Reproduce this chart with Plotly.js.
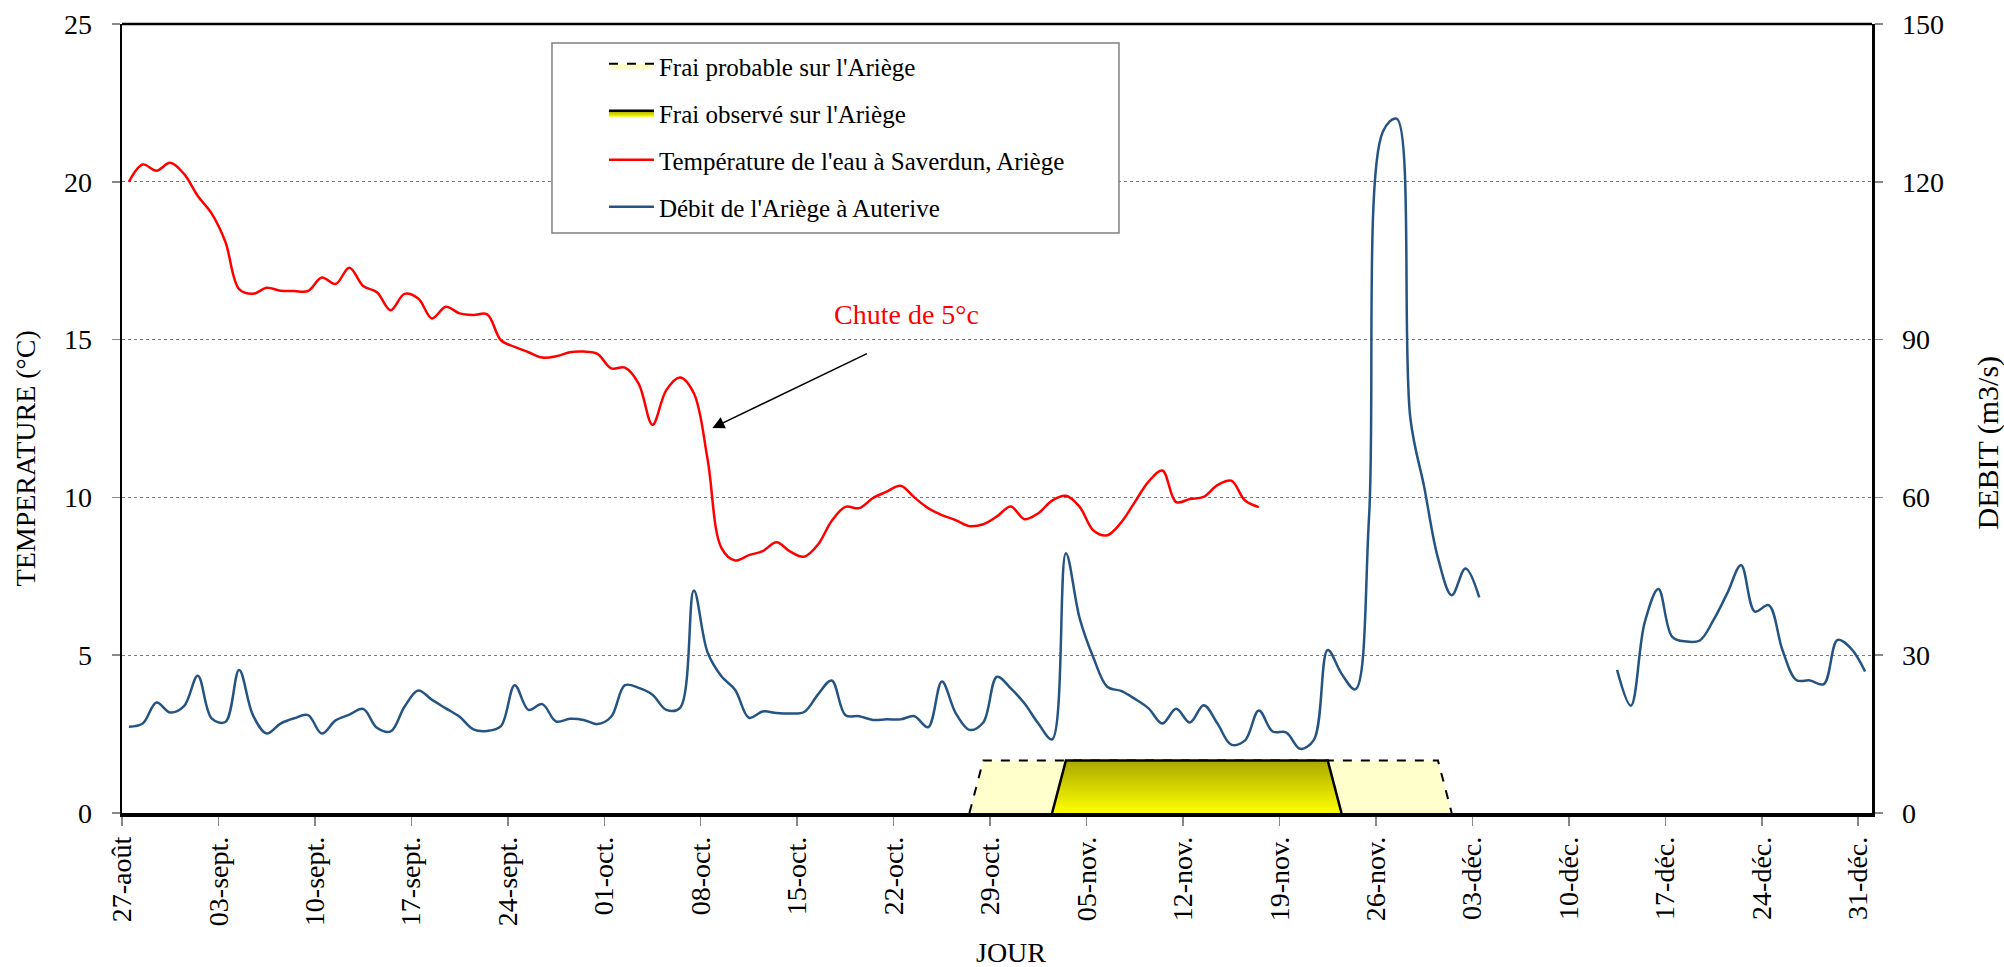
<!DOCTYPE html>
<html>
<head>
<meta charset="utf-8">
<script src="https://cdn.plot.ly/plotly-3.0.1.min.js"></script>
<style>html,body{margin:0;padding:0;background:#fff;}#chart{width:2004px;height:967px;}</style>
</head>
<body>
<div id="chart"></div>
<script>
// ---- Data ----
const startDate = '2007-08-27';

// Température de l'eau à Saverdun (°C), one value per day from 27-août
const temperature = [20.0, 20.55, 20.35, 20.6, 20.25, 19.55, 19.0, 18.1, 16.6, 16.45,
  16.64, 16.55, 16.54, 16.54, 16.97, 16.76, 17.28, 16.7, 16.5, 15.93,
  16.45, 16.3, 15.67, 16.04, 15.83, 15.78, 15.8, 14.98, 14.77, 14.6,
  14.43, 14.47, 14.6, 14.62, 14.55, 14.09, 14.11, 13.6, 12.3, 13.4,
  13.8, 13.3, 11.2, 8.4, 8.0, 8.17, 8.3, 8.58, 8.28, 8.12,
  8.5, 9.25, 9.7, 9.66, 9.98, 10.18, 10.37, 10.0, 9.66, 9.44,
  9.28, 9.09, 9.15, 9.4, 9.71, 9.31, 9.5, 9.9, 10.05, 9.7,
  8.95, 8.8, 9.2, 9.85, 10.5, 10.85, 9.85, 9.95, 10.02, 10.39,
  10.53, 9.9, 9.69];

// Débit de l'Ariège à Auterive (m3/s), one value per day from 27-août
const debit = [16.4, 17.0, 21.0, 19.1, 20.3, 26.1, 18.0, 17.3, 27.2, 18.6,
  15.1, 17.0, 18.0, 18.6, 15.1, 17.6, 18.7, 19.8, 16.2, 15.5,
  20.2, 23.3, 21.5, 19.9, 18.3, 15.9, 15.6, 16.5, 24.3, 19.6,
  20.7, 17.4, 17.9, 17.7, 16.9, 18.3, 24.3, 23.8, 22.5, 19.6,
  20.0, 42.3, 30.5, 26.0, 23.4, 18.1, 19.3, 19.0, 18.9, 19.2,
  22.5, 25.2, 18.6, 18.4, 17.7, 17.8, 17.8, 18.4, 16.3, 25.0,
  19.0, 15.8, 17.2, 25.9, 23.7, 20.8, 17.0, 14.0, 49.4, 37.0,
  29.5, 24.0, 23.2, 21.7, 19.9, 17.0, 19.8, 17.2, 20.5, 17.0,
  13.0, 13.8, 19.5, 15.5, 15.3, 12.2, 13.9, 31.0, 26.5, 23.5,
  56.3, 129.5, 132.0, 75.0, 62.0, 48.5, 41.4, 46.5, 41.0, null,
  null, null, null, null, null, null, null, null, 27.2, 20.4,
  36.2, 42.6, 33.5, 32.6, 32.8, 36.7, 41.8, 47.1, 38.3, 39.5,
  31.0, 25.3, 25.2, 24.5, 32.9, 31.2, 26.9];

// Spawning periods (area series, m3/s scale)
const fraiProbableDates = ['2007-10-27', '2007-10-28', '2007-11-30', '2007-12-01'];
const fraiProbableValues = [0, 10, 10, 0];
const fraiObserveDates = ['2007-11-02', '2007-11-03', '2007-11-22', '2007-11-23'];
const fraiObserveValues = [0, 10, 10, 0];

// Axis ticks
const tickDates = ['2007-08-27', '2007-09-03', '2007-09-10', '2007-09-17', '2007-09-24',
  '2007-10-01', '2007-10-08', '2007-10-15', '2007-10-22', '2007-10-29', '2007-11-05',
  '2007-11-12', '2007-11-19', '2007-11-26', '2007-12-03', '2007-12-10', '2007-12-17',
  '2007-12-24', '2007-12-31'];
const tickLabels = ['27-août', '03-sept.', '10-sept.', '17-sept.', '24-sept.', '01-oct.',
  '08-oct.', '15-oct.', '22-oct.', '29-oct.', '05-nov.', '12-nov.', '19-nov.', '26-nov.',
  '03-déc.', '10-déc.', '17-déc.', '24-déc.', '31-déc.'];

// ---- Helpers ----
function pad(n) { return (n < 10 ? '0' : '') + n; }
function dayAt(i) {           // daily category, centred at noon
  const p = startDate.split('-').map(Number);
  const d = new Date(Date.UTC(p[0], p[1] - 1, p[2] + i, 12));
  return d.getUTCFullYear() + '-' + pad(d.getUTCMonth() + 1) + '-' + pad(d.getUTCDate()) + ' 12:00';
}
function noon(s) { return s + ' 12:00'; }

const FONT = 'Liberation Serif, Times New Roman, serif';

const traces = [
  {
    name: "Frai probable sur l'Ariège",
    x: fraiProbableDates.map(noon), y: fraiProbableValues,
    yaxis: 'y2', mode: 'lines', fill: 'toself', fillcolor: '#FFFFCC',
    line: {color: '#000000', width: 2, dash: 'dash'},
    legendgroup: 'g1', hoverinfo: 'skip'
  },
  {
    name: "Frai observé sur l'Ariège",
    x: fraiObserveDates.map(noon), y: fraiObserveValues,
    yaxis: 'y2', mode: 'lines', fill: 'toself',
    fillgradient: {type: 'vertical', colorscale: [[0, '#FFFF00'], [1, '#A8A800']]},
    line: {color: '#000000', width: 2.5},
    legendgroup: 'g2', hoverinfo: 'skip'
  },
  {
    name: "Température de l'eau à Saverdun, Ariège",
    x: temperature.map((v, i) => dayAt(i)), y: temperature,
    yaxis: 'y', mode: 'lines',
    line: {color: '#FF0000', width: 2.5, shape: 'spline', smoothing: 1},
    legendgroup: 'g3'
  },
  {
    name: "Débit de l'Ariège à Auterive",
    x: debit.map((v, i) => dayAt(i)), y: debit,
    yaxis: 'y2', mode: 'lines', connectgaps: false,
    line: {color: '#255483', width: 2.5, shape: 'spline', smoothing: 1},
    legendgroup: 'g4'
  }
];

const axisFont = {family: FONT, size: 28, color: '#000'};

const layout = {
  width: 2004, height: 967,
  margin: {l: 122, r: 132, t: 24, b: 154, pad: 0},
  paper_bgcolor: '#ffffff', plot_bgcolor: '#ffffff',
  font: {family: FONT, color: '#000'},
  showlegend: true,
  legend: {
    x: 0.2754, y: 0.9758, xanchor: 'left', yanchor: 'top',
    bgcolor: 'rgba(0,0,0,0)', borderwidth: 0,
    font: {family: FONT, size: 25, color: '#000'},
    traceorder: 'grouped', tracegroupgap: 11.5, itemwidth: 45
  },
  xaxis: {
    type: 'date', range: ['2007-08-27', '2008-01-01'],
    tickmode: 'array', tickvals: tickDates, ticktext: tickLabels,
    tickangle: -90, tickfont: axisFont,
    ticks: 'outside', ticklen: 9, tickcolor: '#888', tickwidth: 1.5,
    showline: true, linecolor: '#000', linewidth: 3.5,
    showgrid: false, zeroline: false, fixedrange: true
  },
  yaxis: {
    range: [0, 25], tick0: 0, dtick: 5, tickfont: axisFont,
    ticks: 'outside', ticklen: 8, tickcolor: '#888', tickwidth: 1.5,
    ticklabelstandoff: 14,
    showline: true, linecolor: '#000', linewidth: 2.5,
    showgrid: true, gridcolor: '#7a7a7a', gridwidth: 1, griddash: 'dot',
    zeroline: false, fixedrange: true
  },
  yaxis2: {
    overlaying: 'y', side: 'right',
    range: [0, 150], tick0: 0, dtick: 30, tickfont: axisFont,
    ticks: 'outside', ticklen: 8, tickcolor: '#888', tickwidth: 1.5,
    ticklabelstandoff: 14,
    showline: true, linecolor: '#000', linewidth: 2.5,
    showgrid: false, zeroline: false, fixedrange: true
  },
  shapes: [
    {type: 'line', xref: 'paper', yref: 'paper', x0: 0, x1: 1, y0: 1, y1: 1,
     line: {color: '#000', width: 2.5}},
    {type: 'rect', xref: 'paper', yref: 'paper', x0: 0.2457, x1: 0.5697, y0: 0.7351, y1: 0.9759,
     fillcolor: '#ffffff', line: {color: '#808080', width: 1.5}, layer: 'above'}
  ],
  annotations: [
    {text: 'TEMPERATURE (°C)', xref: 'paper', yref: 'paper', x: -0.0549, y: 0.4493,
     textangle: -90, showarrow: false, font: axisFont, xanchor: 'center', yanchor: 'middle'},
    {text: 'DEBIT (m3/s)', xref: 'paper', yref: 'paper', x: 1.0663, y: 0.4696,
     textangle: -90, showarrow: false, font: {family: FONT, size: 30, color: '#000'},
     xanchor: 'center', yanchor: 'middle'},
    {text: 'JOUR', xref: 'paper', yref: 'paper', x: 0.508, y: -0.1774,
     showarrow: false, font: axisFont, xanchor: 'center', yanchor: 'middle'},
    {text: 'Chute de 5°c', xref: 'x', yref: 'y', x: '2007-10-22 21:30', y: 15.81,
     showarrow: false, font: {family: FONT, size: 28, color: '#FF0000'},
     xanchor: 'center', yanchor: 'middle'},
    {text: '', xref: 'x', yref: 'y', x: '2007-10-08 20:24', y: 12.2,
     showarrow: true, ax: 156, ay: -75, arrowhead: 2, arrowsize: 1.6, arrowwidth: 1.5,
     arrowcolor: '#000', standoff: 0}
  ]
};

Plotly.newPlot('chart', traces, layout, {staticPlot: true, displayModeBar: false});
</script>
</body>
</html>
